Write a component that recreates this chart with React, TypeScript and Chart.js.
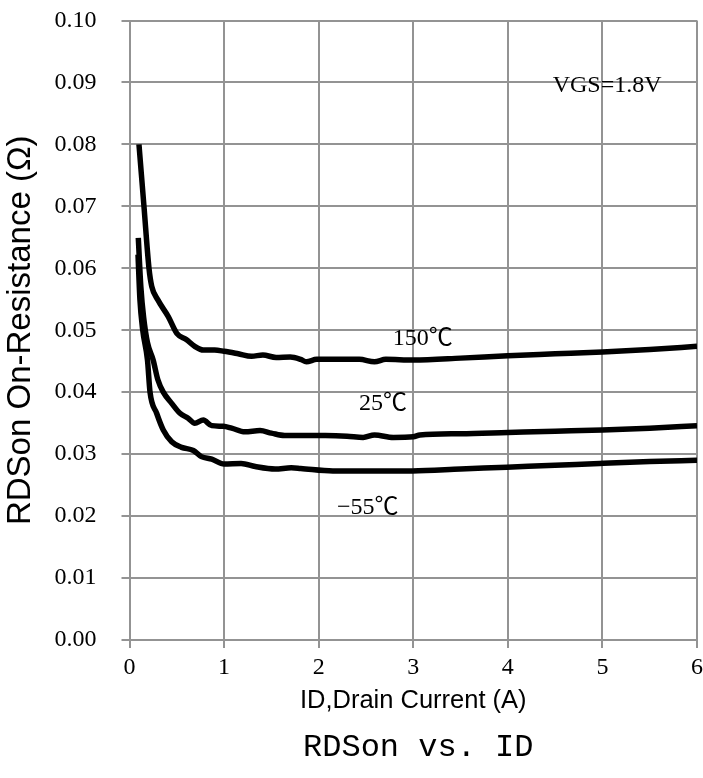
import React, { useEffect, useRef } from 'react';
import { Chart, registerables } from 'chart.js';

Chart.register(...registerables);

// ---- data ----
const xMin = 0;
const xMax = 6;
const yMin = 0;
const yMax = 0.1;

const t150X = [0.10, 0.153, 0.206, 0.235, 0.30, 0.41, 0.50, 0.60, 0.69, 0.78, 0.90, 1.00, 1.15, 1.29, 1.41, 1.55, 1.70, 1.81, 1.87, 1.98, 2.20, 2.43, 2.59, 2.71, 3.00, 3.50, 4.00, 4.50, 5.00, 5.50, 6.00];
const t150Y = [0.0800, 0.0700, 0.0600, 0.0571, 0.0549, 0.0522, 0.0495, 0.0485, 0.0474, 0.0468, 0.0468, 0.0466, 0.0462, 0.0458, 0.0460, 0.0456, 0.0457, 0.0453, 0.0449, 0.0453, 0.0453, 0.0453, 0.0449, 0.0453, 0.0452, 0.0455, 0.0459, 0.0462, 0.0465, 0.0469, 0.0474];

const t25X = [0.093, 0.12, 0.15, 0.19, 0.25, 0.30, 0.357, 0.446, 0.534, 0.62, 0.69, 0.78, 0.87, 0.99, 1.08, 1.22, 1.38, 1.50, 1.64, 1.85, 2.07, 2.30, 2.47, 2.59, 2.79, 3.00, 3.07, 3.50, 4.00, 4.50, 5.00, 5.50, 6.00];
const t25Y = [0.0649, 0.0570, 0.0520, 0.0480, 0.0452, 0.0420, 0.0400, 0.0382, 0.0366, 0.0358, 0.0350, 0.0355, 0.0346, 0.0345, 0.0342, 0.0336, 0.0338, 0.0334, 0.0330, 0.0330, 0.0330, 0.0329, 0.0327, 0.0331, 0.0327, 0.0328, 0.0331, 0.0333, 0.0335, 0.0337, 0.0339, 0.0342, 0.0346];

const tm55X = [0.09, 0.11, 0.14, 0.19, 0.217, 0.287, 0.357, 0.446, 0.55, 0.675, 0.76, 0.87, 1.00, 1.18, 1.33, 1.54, 1.71, 1.81, 2.15, 2.99, 3.50, 3.99, 4.50, 4.97, 5.50, 6.00];
const tm55Y = [0.0622, 0.0550, 0.0500, 0.0452, 0.0400, 0.0366, 0.0339, 0.0320, 0.0311, 0.0306, 0.0296, 0.0292, 0.0284, 0.0285, 0.0280, 0.0276, 0.0278, 0.0277, 0.0273, 0.0273, 0.0276, 0.0279, 0.0282, 0.0285, 0.0288, 0.0290];

const labelText = ['VGS=1.8V', '150℃', '25℃', '−55℃'];
const labelX = [5.05, 3.10, 2.68, 2.52];
const labelY = [0.0894, 0.0486, 0.0381, 0.0213];

const chartTitle = 'RDSon vs. ID';
const xTitle = 'ID,Drain Current (A)';
const yTitle = 'RDSon On-Resistance (Ω)';

const toPoints = (xs: number[], ys: number[]) => xs.map((x, i) => ({ x, y: ys[i] }));

const SERIF = '"Liberation Serif", "Noto Sans CJK SC", serif';
const SANS = '"Liberation Sans", Arial, sans-serif';
const MONO = '"Liberation Mono", "DejaVu Sans Mono", monospace';
const GRID = '#939393';

const labelPlugin = {
  id: 'curveLabels',
  afterDatasetsDraw(chart: any) {
    const { ctx, scales, chartArea } = chart;
    const xs = scales.x;
    const ys = scales.y;
    ctx.save();
    ctx.font = `24px ${SERIF}`;
    ctx.fillStyle = '#000';
    ctx.textAlign = 'center';
    ctx.textBaseline = 'middle';
    labelText.forEach((t, i) => {
      ctx.fillText(t, xs.getPixelForValue(labelX[i]), ys.getPixelForValue(labelY[i]));
    });
    // chart title, centred under the plot area
    ctx.font = `32px ${MONO}`;
    ctx.fillText(chartTitle, (chartArea.left + chartArea.right) / 2 + 5, chart.height - 30);
    ctx.restore();
  },
};

export default function App() {
  const ref = useRef<HTMLCanvasElement | null>(null);

  useEffect(() => {
    if (!ref.current) return;
    const lineStyle = {
      borderColor: '#000',
      backgroundColor: '#000',
      borderWidth: 5.5,
      pointRadius: 0,
      fill: false,
      cubicInterpolationMode: 'monotone' as const,
    };
    const chart = new Chart(ref.current, {
      type: 'line',
      data: {
        datasets: [
          { label: '150℃', data: toPoints(t150X, t150Y), ...lineStyle },
          { label: '25℃', data: toPoints(t25X, t25Y), ...lineStyle },
          { label: '−55℃', data: toPoints(tm55X, tm55Y), ...lineStyle },
        ],
      },
      options: {
        responsive: false,
        animation: false,
        layout: { padding: { left: 0, right: 6, top: 20.5, bottom: 56.4 } },
        plugins: {
          legend: { display: false },
          tooltip: { enabled: false },
          title: { display: false },
        },
        scales: {
          x: {
            type: 'linear',
            min: xMin,
            max: xMax,
            ticks: {
              stepSize: 1,
              color: '#000',
              font: { family: SERIF, size: 24 },
              padding: 5,
              maxRotation: 0,
            },
            grid: { color: GRID, lineWidth: 2, tickLength: 8, drawTicks: true },
            border: { color: GRID, width: 2 },
            title: {
              display: true,
              text: xTitle,
              color: '#000',
              font: { family: SANS, size: 25.5, lineHeight: 1.2 },
              padding: { top: 0, bottom: 5.6 },
            },
            afterFit: (s: any) => {
              s.height = 81.6;
              s.paddingLeft = 0;
              s.paddingRight = 0;
            },
          },
          y: {
            type: 'linear',
            min: yMin,
            max: yMax,
            ticks: {
              stepSize: 0.01,
              color: '#000',
              font: { family: SERIF, size: 24 },
              padding: 25,
              callback: (v: any) => Number(v).toFixed(2),
            },
            grid: { color: GRID, lineWidth: 2, tickLength: 8, drawTicks: true },
            border: { color: GRID, width: 2 },
            title: {
              display: true,
              text: yTitle,
              color: '#000',
              font: { family: SANS, size: 33, lineHeight: 1.2 },
              padding: { top: 1, bottom: 0 },
            },
            afterFit: (s: any) => {
              s.width = 129.5;
              s.paddingTop = 0;
              s.paddingBottom = 0;
            },
          },
        },
      },
      plugins: [labelPlugin],
    });
    return () => chart.destroy();
  }, []);

  return (
    <canvas
      ref={ref}
      width={703}
      height={778}
      style={{ position: 'fixed', top: 0, left: 0, width: '703px', height: '778px', background: '#fff' }}
    />
  );
}
